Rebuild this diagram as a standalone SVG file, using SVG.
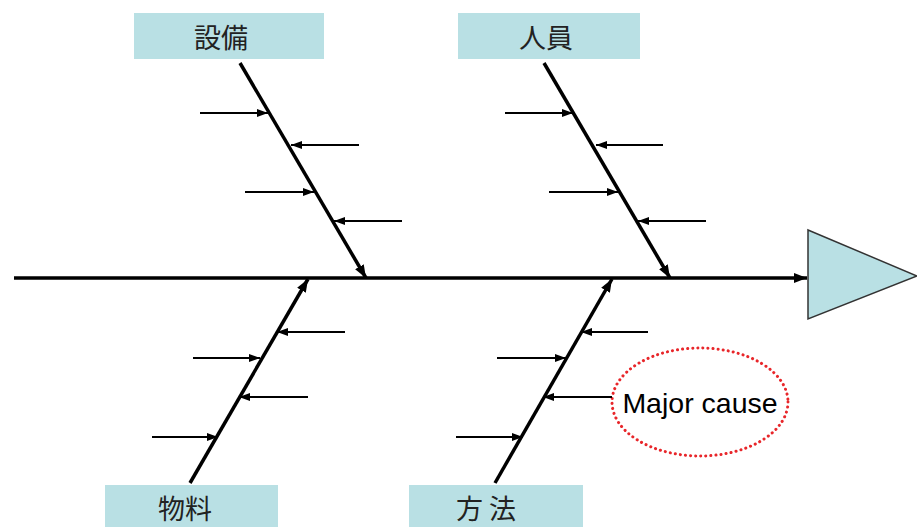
<svg xmlns="http://www.w3.org/2000/svg" width="917" height="527" viewBox="0 0 917 527">
<style>
.box{fill:#b9e0e4;stroke:none}
.lbl{font-family:"Noto Sans CJK JP","Noto Sans CJK SC",sans-serif;font-size:27px;fill:#222;text-anchor:middle}
.sub{stroke:#000;stroke-width:1.8;fill:none;marker-end:url(#sa)}
.br{stroke:#000;stroke-width:3.5;fill:none;marker-end:url(#ba)}
</style>
<defs>
<marker id="sa" markerUnits="userSpaceOnUse" markerWidth="12" markerHeight="10" viewBox="0 0 12 10" refX="11" refY="5" orient="auto"><path d="M0,1 L11,5 L0,9 Z" fill="#000"/></marker>
<marker id="ba" markerUnits="userSpaceOnUse" markerWidth="14" markerHeight="12" viewBox="0 0 14 12" refX="13" refY="6" orient="auto"><path d="M0,1 L13,6 L0,11 Z" fill="#000"/></marker>
</defs>
<g id="head"><polygon points="808,230 917,276 808,319" fill="#b9e0e4" stroke="#333" stroke-width="1.5"/></g>
<g id="n-equipment"><rect class="box" x="134" y="13" width="190" height="46"/><text class="lbl" x="221" y="48">設備</text></g>
<g id="n-people"><rect class="box" x="458" y="13" width="182" height="46"/><text class="lbl" x="546" y="48">人員</text></g>
<g id="n-material"><rect class="box" x="105" y="485" width="173" height="42"/><text class="lbl" x="185" y="519">物料</text></g>
<g id="n-method"><rect class="box" x="409" y="485" width="174" height="42"/><text class="lbl" x="486" y="519">方 法</text></g>
<g id="n-major"><ellipse cx="700" cy="402" rx="88" ry="54" fill="none" stroke="#e8262a" stroke-width="3" stroke-dasharray="0.1 5" stroke-linecap="round"/><text x="700" y="413" font-family="Liberation Sans, Arial, sans-serif" font-size="28.5" fill="#000" text-anchor="middle">Major cause</text></g>
<g id="connectors">
<line class="br" x1="14" y1="278" x2="807" y2="278"/>
<line class="br" x1="240" y1="63" x2="366" y2="278"/>
<line class="br" x1="544" y1="63" x2="670" y2="278"/>
<line class="br" x1="190" y1="483" x2="308" y2="279"/>
<line class="br" x1="495" y1="483" x2="612" y2="279"/>
<line class="sub" x1="200" y1="113" x2="268" y2="113"/>
<line class="sub" x1="359" y1="145" x2="291" y2="145"/>
<line class="sub" x1="245" y1="192" x2="314" y2="192"/>
<line class="sub" x1="402" y1="221" x2="334" y2="221"/>
<line class="sub" x1="505" y1="113" x2="573" y2="113"/>
<line class="sub" x1="663" y1="145" x2="596" y2="145"/>
<line class="sub" x1="549" y1="192" x2="618" y2="192"/>
<line class="sub" x1="706" y1="221" x2="638" y2="221"/>
<line class="sub" x1="345" y1="332" x2="277" y2="332"/>
<line class="sub" x1="193" y1="358" x2="260" y2="358"/>
<line class="sub" x1="308" y1="397" x2="239" y2="397"/>
<line class="sub" x1="152" y1="437" x2="218" y2="437"/>
<line class="sub" x1="648" y1="332" x2="581" y2="332"/>
<line class="sub" x1="497" y1="358" x2="566" y2="358"/>
<line class="sub" x1="612" y1="397" x2="543" y2="397"/>
<line class="sub" x1="456" y1="437" x2="523" y2="437"/>
</g>
</svg>
